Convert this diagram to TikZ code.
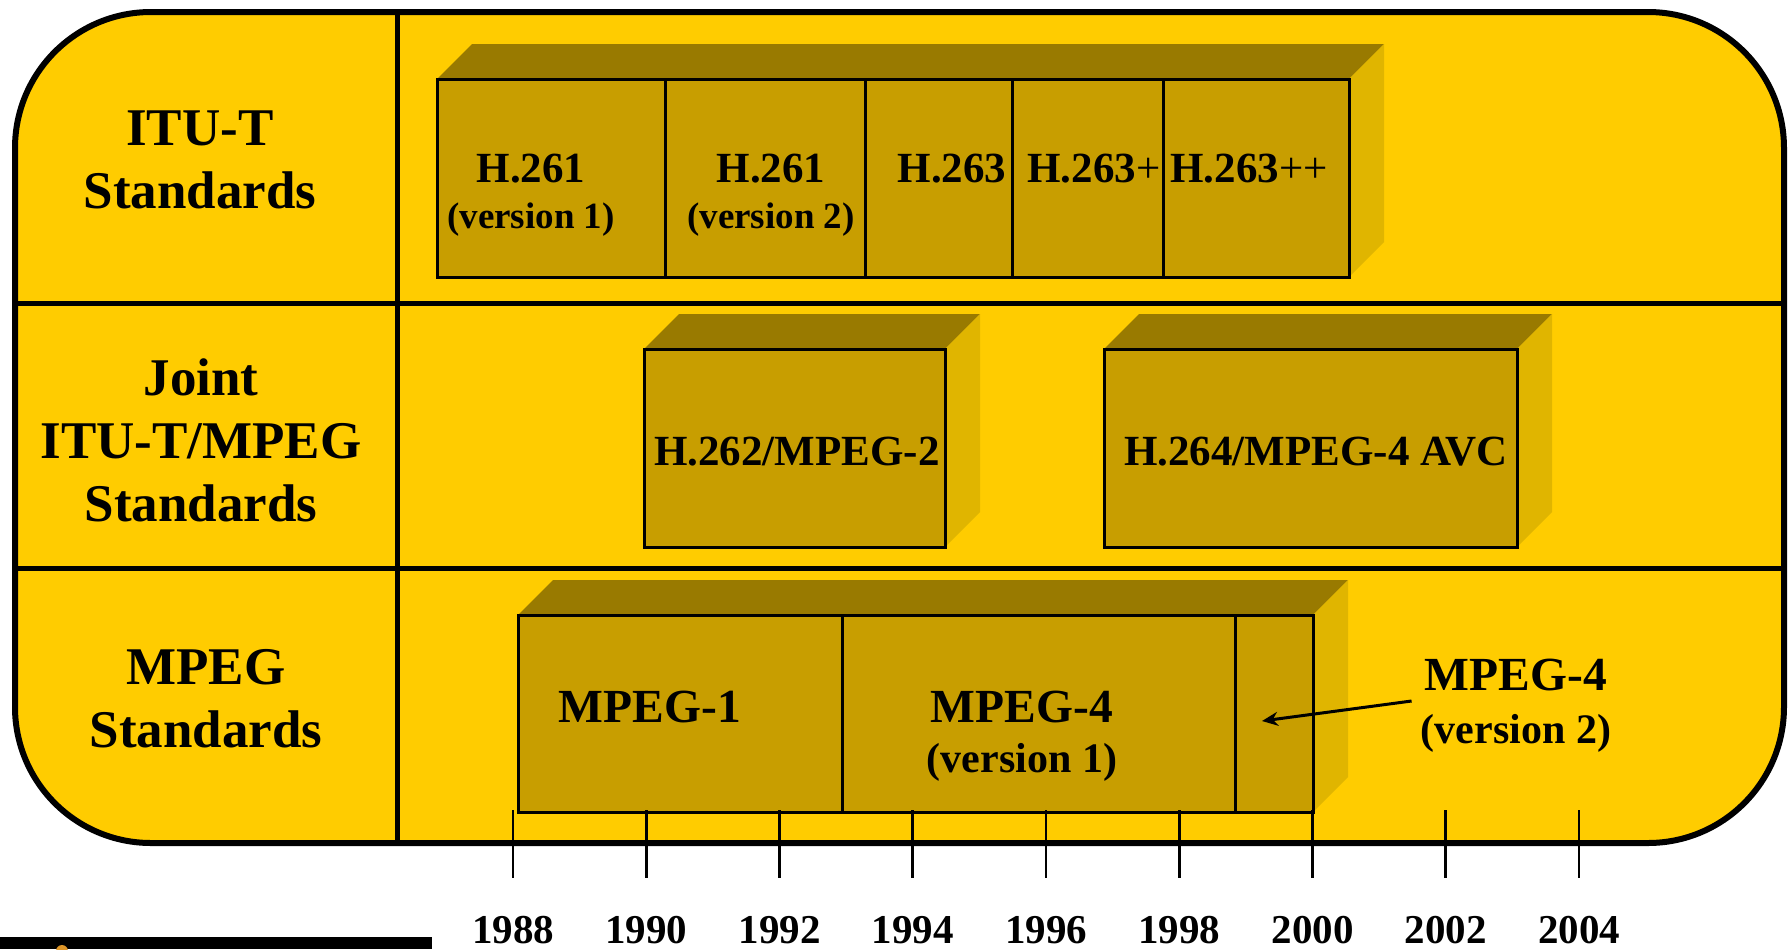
\documentclass[tikz,border=0pt]{standalone}
\usepackage{fontspec}
\setmainfont{Liberation Serif}
\usetikzlibrary{positioning, backgrounds, arrows.meta}

\definecolor{panelyellow}{RGB}{255,204,0}
\definecolor{frontgold}{RGB}{200,158,0}
\definecolor{topgold}{RGB}{153,122,0}
\definecolor{sidegold}{RGB}{224,181,0}
\definecolor{logoorange}{RGB}{222,150,40}

\tikzset{
  panel/.style={draw, line width=3bp, fill=panelyellow, rounded corners=68bp},
  divider/.style={line width=2.5bp},
  seg/.style={rectangle, draw, fill=frontgold, line width=1.5bp, inner sep=0pt, outer sep=0pt, minimum height=99bp},
  topface/.style={fill=topgold},
  sideface/.style={fill=sidegold},
  rowlabel/.style={align=center, anchor=north, inner sep=0pt, font=\fontsize{26.5bp}{31.5bp}\selectfont\bfseries},
  stdname/.style={anchor=base, inner sep=0pt, font=\fontsize{21.5bp}{24bp}\selectfont\bfseries},
  stdver/.style={anchor=base, inner sep=0pt, font=\fontsize{18.5bp}{22bp}\selectfont\bfseries},
  mpegname/.style={anchor=base, inner sep=0pt, font=\fontsize{23.75bp}{27bp}\selectfont\bfseries},
  mpegver/.style={anchor=base, inner sep=0pt, font=\fontsize{21bp}{25bp}\selectfont\bfseries},
  yearlabel/.style={anchor=base, inner sep=0pt, font=\fontsize{20.5bp}{24bp}\selectfont\bfseries},
  tick/.style={line width=1.3bp},
  pointer/.style={line width=1.5bp, -{Stealth[length=8bp, width=7bp]}}
}

\begin{document}
\begin{tikzpicture}[x=0.5bp, y=-0.5bp]
\useasboundingbox (0,0) rectangle (1791,949);

% ITU-T row
\node[seg, minimum width=114bp, anchor=north west] (h261a) at (437,79) {};
\node[seg, minimum width=100bp, right=0pt of h261a] (h261b) {};
\node[seg, minimum width=73.5bp, right=0pt of h261b] (h263) {};
\node[seg, minimum width=75.5bp, right=0pt of h263] (h263p) {};
\node[seg, minimum width=93bp, right=0pt of h263p] (h263pp) {};

% joint row
\node[seg, minimum width=150.5bp, anchor=north west] (h262) at (644,349) {};
\node[seg, minimum width=206.5bp, anchor=north west] (h264) at (1104,349) {};

% MPEG row
\node[seg, minimum width=162bp, minimum height=98.5bp, anchor=north west] (mpeg1) at (518,615) {};
\node[seg, minimum width=196.5bp, minimum height=98.5bp, right=0pt of mpeg1] (mpeg4a) {};
\node[seg, minimum width=39bp, minimum height=98.5bp, right=0pt of mpeg4a] (mpeg4b) {};

\begin{scope}[on background layer]
\draw[panel] (15,12) rectangle (1784,843);
\foreach \l/\r in {h261a/h263pp, h262/h262, h264/h264, mpeg1/mpeg4b} {
  \fill[topface] (\l.north west) -- ++(35,-35) -- ([shift={(35,-35)}]\r.north east) -- (\r.north east) -- cycle;
  \fill[sideface] (\r.north east) -- ++(35,-35) -- ([shift={(35,-35)}]\r.south east) -- (\r.south east) -- cycle;
}
\end{scope}

\draw[divider] (397,12) -- (397,843);
\draw[divider] (15,303) -- (1784,303);
\draw[divider] (15,568) -- (1784,568);

\node[rowlabel] (itu) at (200,110) {ITU-T\\Standards};
\node[rowlabel] (joint) at (201,358) {Joint\\ITU-T/MPEG\\Standards};
\node[rowlabel] (mpeg) at (206,649) {MPEG\\Standards};

\node[stdname] (t261a) at (531,182) {H.261};
\node[stdver] (v261a) at ([yshift=-23bp]t261a.base) {(version 1)};
\node[stdname] (t261b) at (771,182) {H.261};
\node[stdver] (v261b) at ([yshift=-23bp]t261b.base) {(version 2)};
\node[stdname] (t263) at (952,182) {H.263};
\node[stdname] (t263p) at (1094,182) {H.263\textmd{+}};
\node[stdname] (t263pp) at (1249,182) {H.263\textmd{++}};

\node[stdname] (t262) at (797,465) {H.262/MPEG-2};
\node[stdname] (t264) at (1316,465) {H.264/MPEG-4 AVC};

\node[mpegname] (tm1) at (650,722) {MPEG-1};
\node[mpegname] (tm4) at (1022,722) {MPEG-4};
\node[mpegver] (vm4) at ([yshift=-25bp]tm4.base) {(version 1)};
\node[mpegname] (tv2) at (1516,690) {MPEG-4};
\node[mpegver] (vv2) at ([yshift=-26.5bp]tv2.base) {(version 2)};

\coordinate (m4tip) at (1262,721);
\draw[pointer] ([shift={(-13,11)}]tv2.base west) -- (m4tip);

% time axis
\foreach \yr [count=\i from 0] in {1988,1990,...,2004} {
  \draw[tick] (513+133.25*\i,810) -- (513+133.25*\i,878);
  \node[yearlabel] (y\yr) at (513+133.25*\i,943) {\yr};
}

\fill (0,937) rectangle (432,949);
\fill[logoorange] (62,951) circle (6);
\end{tikzpicture}
\end{document}
